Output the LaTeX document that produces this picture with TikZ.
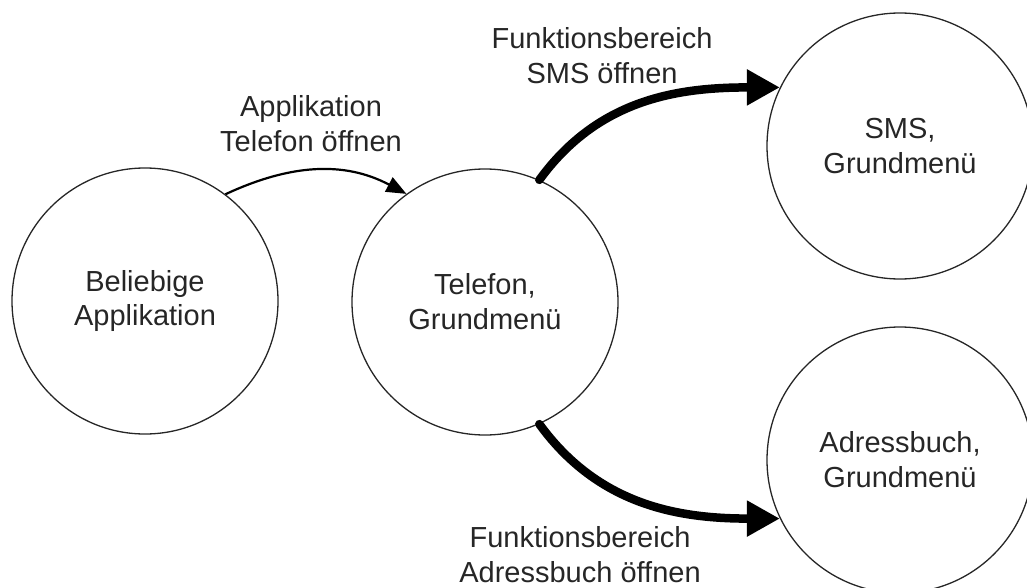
\documentclass[tikz,border=0pt]{standalone}
\usepackage{fontspec}
\setmainfont{Liberation Sans}
\usetikzlibrary{arrows.meta}
\begin{document}
\begin{tikzpicture}[x=1pt,y=-1pt,
  state/.style={circle,draw=black!85,line width=1.3pt,inner sep=0pt,align=center,
    minimum size=266pt,font=\fontsize{29}{35}\selectfont,text=black!85},
  lbl/.style={align=center,font=\fontsize{29}{35}\selectfont,text=black!85},
  thinarrow/.style={line width=2.2pt,-{Triangle[length=20pt,width=16pt]}},
  thickarrow/.style={line width=8.5pt,line cap=round,-{Triangle[length=33pt,width=34pt]}}]
\useasboundingbox (0,0) rectangle (1027,588);
% states
\node[state] (app) at (145,301) {Beliebige\\Applikation};
\node[state] (tel) at (485,302) {Telefon,\\Grundmenü};
\node[state] (sms) at (900,146) {SMS,\\Grundmenü};
\node[state] (adr) at (900,460) {Adressbuch,\\Grundmenü};
% transition labels
\node[lbl] (l1) at (311,124) {Applikation\\Telefon öffnen};
\node[lbl] (l2) at (602,56) {Funktionsbereich\\SMS öffnen};
\node[lbl] (l3) at (580,555) {Funktionsbereich\\Adressbuch öffnen};
% transitions
\draw[thinarrow] (app.53) to[out=25,in=152] (tel.126);
\draw[thickarrow] (tel.66.5) to[out=54,in=180] (sms.154);
\draw[thickarrow] (tel.-66.5) to[out=-54,in=180] (adr.-154);
\end{tikzpicture}
\end{document}
